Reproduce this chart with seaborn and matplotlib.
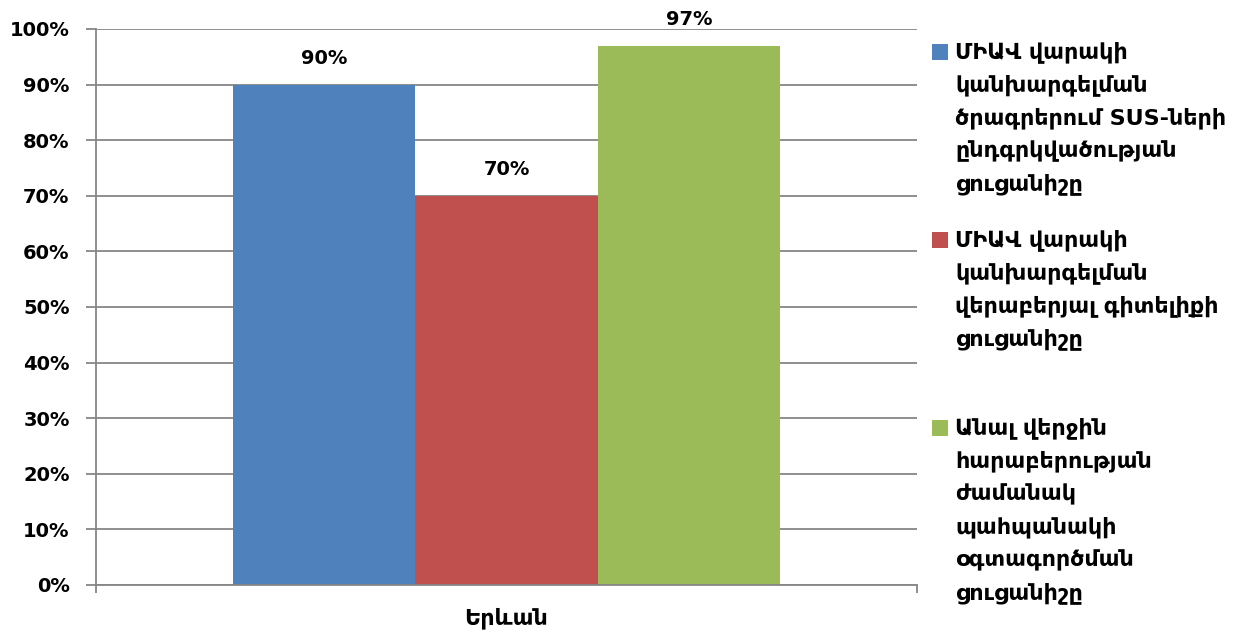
import matplotlib
matplotlib.use("Agg")
import matplotlib.pyplot as plt
from matplotlib.patches import Rectangle
import seaborn as sns
import pandas as pd

# ---- data ----
categories = ["Երևան"]
series = [
    "ՄԻԱՎ վարակի\nկանխարգելման\nծրագրերում SUS-ների\nընդգրկվածության\nցուցանիշը",
    "ՄԻԱՎ վարակի\nկանխարգելման\nվերաբերյալ գիտելիքի\nցուցանիշը",
    "Անալ վերջին\nհարաբերության\nժամանակ\nպահպանակի\nօգտագործման\nցուցանիշը",
]
values = [90, 70, 97]
colors = ["#4F81BD", "#C0504D", "#9BBB59"]
yticks = [0, 10, 20, 30, 40, 50, 60, 70, 80, 90, 100]

df = pd.DataFrame({"city": categories * len(series), "series": series, "value": values})

sns.set_theme(style="white")
plt.rcParams["font.family"] = ["DejaVu Sans"]

W, H = 1238, 637
fig = plt.figure(figsize=(W / 100, H / 100), dpi=100)
ax = fig.add_axes([96 / W, 1 - 585 / H, (917 - 96) / W, (585 - 29) / H])

sns.barplot(data=df, x="city", y="value", hue="series", palette=colors,
            width=0.667, gap=0, saturation=1, legend=False, ax=ax)
for p in ax.patches:
    p.set_edgecolor("none")

ax.set_ylim(0, 100)
ax.set_xlim(-0.5, 0.5)
ax.set_yticks(yticks)
ax.set_yticklabels([f"{t}%" for t in yticks], fontsize=14, fontweight="bold", color="black")
ax.set_xticks([0])
ax.set_xticklabels(categories, fontsize=16, fontweight="bold", color="black")
ax.set_xticks([-0.5, 0.5], minor=True)
ax.tick_params(axis="x", which="major", length=0, pad=16)
ax.tick_params(axis="x", which="minor", length=6, width=1.3, color="#868686", direction="out", bottom=True)
ax.tick_params(axis="y", length=7, width=1.3, color="#868686", direction="out", left=True, pad=12)
ax.set_xlabel("")
ax.set_ylabel("")

ax.yaxis.grid(True, color="#868686", linewidth=1.3)
ax.set_axisbelow(True)
for s in ["top", "right"]:
    ax.spines[s].set_visible(False)
for s in ["left", "bottom"]:
    ax.spines[s].set_color("#868686")
    ax.spines[s].set_linewidth(1.3)
ax.spines["bottom"].set_zorder(3)

for cont in ax.containers:
    ax.bar_label(cont, fmt="%d%%", padding=12, fontsize=14, fontweight="bold", color="black")

# ---- legend (manual, handle aligned with first line) ----
starts = [52, 240, 428]
line_h = 33
for lab, col, y0 in zip(series, colors, starts):
    fig.patches.append(Rectangle((932 / W, 1 - (y0 + 8) / H), 16 / W, 16 / H,
                                 transform=fig.transFigure, facecolor=col, edgecolor="none"))
    for i, line in enumerate(lab.split("\n")):
        fig.text(955 / W, 1 - (y0 + i * line_h) / H, line, fontsize=16,
                 fontweight="bold", color="black", va="center", ha="left")

fig.savefig("out.png", dpi=100, facecolor="white")
